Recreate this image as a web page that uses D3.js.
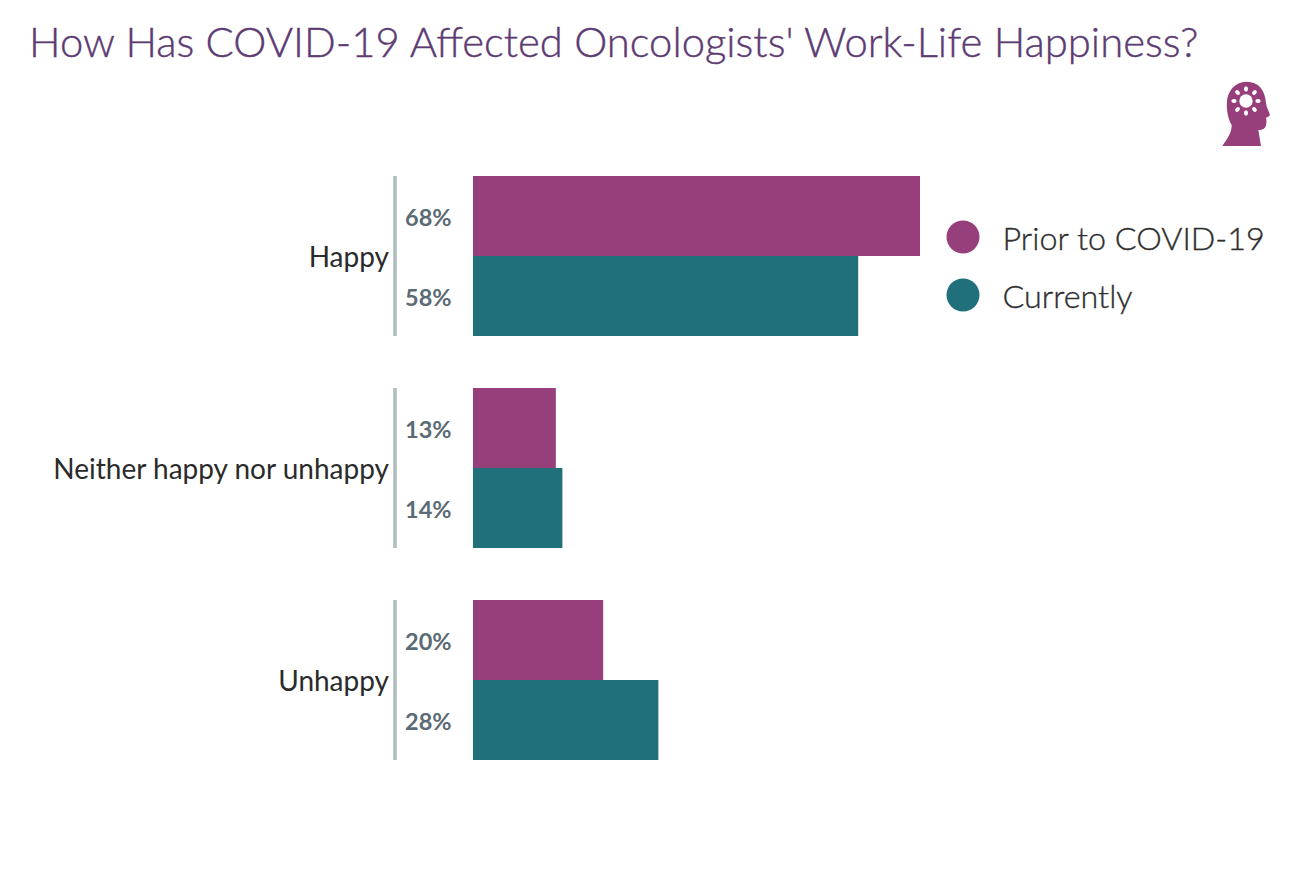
<!DOCTYPE html>
<html>
<head>
<meta charset="utf-8">
<script src="https://cdn.jsdelivr.net/npm/d3@7"></script>
<style>
  html, body { margin: 0; padding: 0; background: #fff; }
  svg { display: block; }
  text { font-family: Lato, sans-serif; }
</style>
</head>
<body>
<div id="chart"></div>
<script>
var categories = ["Happy", "Neither happy nor unhappy", "Unhappy"]
var seriesNames = ["Prior to COVID-19", "Currently"]
var priorValues = [68, 12.6, 19.8]
var currentValues = [58.6, 13.6, 28.2]
var priorLabels = ["68%", "13%", "20%"]
var currentLabels = ["58%", "14%", "28%"]
var seriesColors = ["#963f7a", "#20707c"]

var width = 1290
var height = 878

var svg = d3.select("#chart").append("svg")
  .attr("width", width)
  .attr("height", height)

svg.append("text")
  .attr("x", 29)
  .attr("y", 57)
  .attr("fill", "#5d3b73")
  .attr("stroke", "#5d3b73")
  .attr("stroke-width", 0.4)
  .style("font-size", "41.8px")
  .style("font-weight", 300)
  .text("How Has COVID-19 Affected Oncologists' Work-Life Happiness?")

var x = d3.scaleLinear()
  .domain([0, 68])
  .range([473, 920])

var y = d3.scaleBand()
  .domain(categories)
  .range([176, 760])
  .paddingInner(52 / 212)

var ySeries = d3.scaleBand()
  .domain(seriesNames)
  .range([0, y.bandwidth()])

var rows = categories.map(function(c, i) {
  return {
    category: c,
    values: [
      { series: seriesNames[0], value: priorValues[i], label: priorLabels[i] },
      { series: seriesNames[1], value: currentValues[i], label: currentLabels[i] }
    ]
  }
})

var color = d3.scaleOrdinal().domain(seriesNames).range(seriesColors)

var group = svg.selectAll(".group")
  .data(rows)
  .enter().append("g")
  .attr("class", "group")
  .attr("transform", function(d) { return "translate(0," + y(d.category) + ")" })

group.append("line")
  .attr("x1", 395)
  .attr("x2", 395)
  .attr("y1", 0)
  .attr("y2", y.bandwidth())
  .attr("stroke", "#adbdbb")
  .attr("stroke-width", 3.5)

group.selectAll("rect")
  .data(function(d) { return d.values })
  .enter().append("rect")
  .attr("x", x(0))
  .attr("y", function(d) { return ySeries(d.series) })
  .attr("width", function(d) { return x(d.value) - x(0) })
  .attr("height", ySeries.bandwidth())
  .attr("fill", function(d) { return color(d.series) })

group.selectAll(".bar-label")
  .data(function(d) { return d.values })
  .enter().append("text")
  .attr("class", "bar-label")
  .attr("x", 405)
  .attr("y", function(d) { return ySeries(d.series) + ySeries.bandwidth() / 2 + 2 })
  .attr("dy", "0.35em")
  .attr("fill", "#5b6b75")
  .style("font-size", "23.5px")
  .style("font-weight", 700)
  .text(function(d) { return d.label })

var yAxis = svg.append("g")
  .attr("transform", "translate(389,2)")
  .call(d3.axisLeft(y).tickSize(0).tickPadding(0))

yAxis.select(".domain").remove()
yAxis.selectAll("text")
  .attr("fill", "#2b2b2b")
  .style("font-family", "Lato, sans-serif")
  .style("font-size", "28px")

var legend = svg.selectAll(".legend")
  .data(seriesNames)
  .enter().append("g")
  .attr("class", "legend")
  .attr("transform", function(d, i) { return "translate(963," + (237 + i * 58) + ")" })

legend.append("circle")
  .attr("r", 16.5)
  .attr("fill", function(d) { return color(d) })

legend.append("text")
  .attr("x", 39.5)
  .attr("y", 2)
  .attr("dy", "0.35em")
  .attr("fill", "#2f2f2f")
  .attr("stroke", "#2f2f2f")
  .attr("stroke-width", 0.35)
  .style("font-size", "32.3px")
  .style("font-weight", 300)
  .text(function(d) { return d })

// head icon
var icon = svg.append("g")
  .attr("transform", "translate(1190,70) scale(0.3333)")

icon.append("path")
  .attr("fill", "#963f7a")
  .attr("d", "M97,228 C112,205 125,190 125,165 C112,145 108,110 112,85 C120,50 145,35 170,35 C205,35 226,60 228,100 C230,115 238,125 240,135 C238,140 232,142 228,143 C230,150 230,158 228,165 C226,175 220,180 205,180 L213,228 Z")

icon.append("circle")
  .attr("cx", 168)
  .attr("cy", 93)
  .attr("r", 20)
  .attr("fill", "#fff")

icon.selectAll(".petal")
  .data(d3.range(8))
  .enter().append("ellipse")
  .attr("class", "petal")
  .attr("cx", 0)
  .attr("cy", -36)
  .attr("rx", 6)
  .attr("ry", 8)
  .attr("fill", "#fff")
  .attr("transform", function(d) { return "translate(168,93) rotate(" + (d * 45) + ")" })
</script>
</body>
</html>
